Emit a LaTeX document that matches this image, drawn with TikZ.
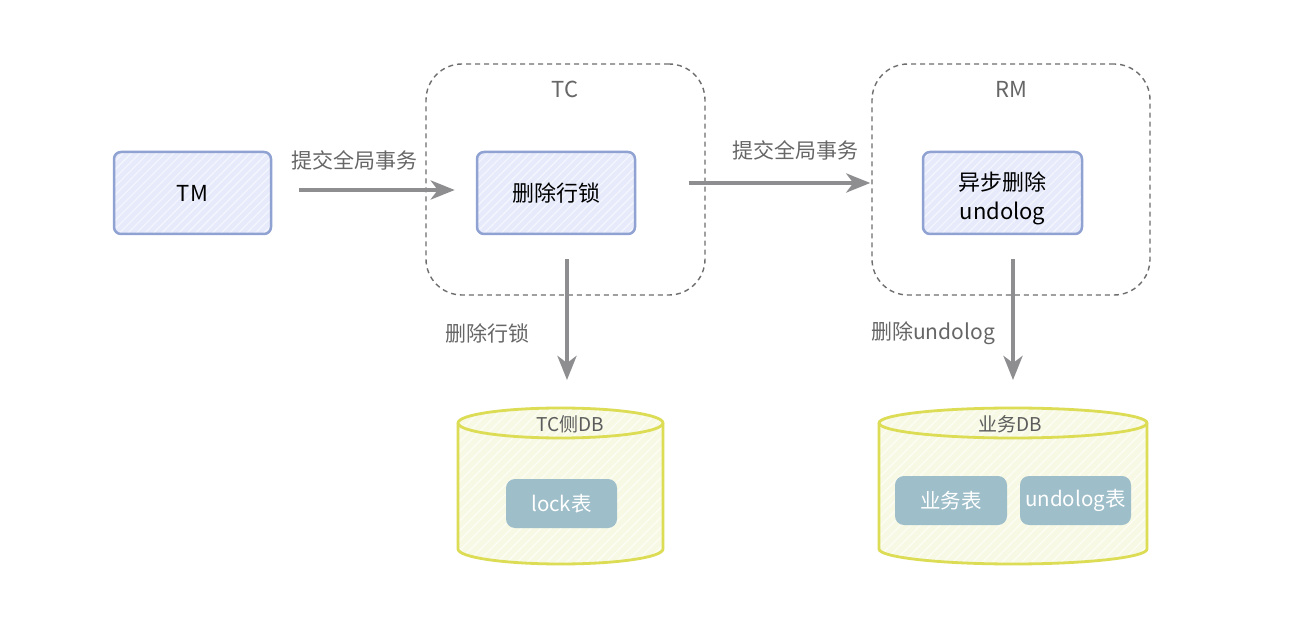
\documentclass[tikz,border=0pt]{standalone}
\usepackage{fontspec}
\setmainfont{Noto Sans CJK SC}
\usetikzlibrary{arrows.meta,patterns.meta,calc}
\definecolor{boxfill}{HTML}{E6EAFB}
\definecolor{boxline}{HTML}{8FA2D2}
\definecolor{dbfill}{HTML}{F7F9E4}
\definecolor{dbline}{HTML}{DCDC55}
\definecolor{tblfill}{HTML}{9EBEC9}
\definecolor{arrgray}{HTML}{8E8E91}
\definecolor{dashgray}{HTML}{6E6E6E}
\definecolor{txtgray}{HTML}{666666}
\tikzset{
  procbox/.style={draw=boxline, line width=2.5pt, rounded corners=7pt,
    minimum width=157pt, minimum height=82pt, inner sep=0pt, align=center,
    preaction={fill=boxfill},
    pattern={Lines[angle=45,distance=6pt,line width=1.3pt]}, pattern color=white!55!boxfill,
    font=\fontsize{22}{29}\selectfont, text=black},
  container/.style={draw=dashgray, dash pattern=on 5pt off 4pt, line width=1.4pt,
    rounded corners=36pt, minimum width=279pt, minimum height=231pt, inner sep=0pt},
  arr/.style={draw=arrgray, line width=4.5pt, -{Stealth[length=24pt,width=19pt,inset=7pt]}},
  lbl/.style={text=txtgray, font=\fontsize{21}{24}\selectfont, inner sep=0pt},
  ttl/.style={text=txtgray, font=\fontsize{22}{24}\selectfont, inner sep=0pt},
  dbshape/.style={draw=dbline, line width=2.8pt, preaction={fill=dbfill},
    pattern={Lines[angle=45,distance=7pt,line width=1.4pt]}, pattern color=white!60!dbfill},
  tbl/.style={fill=tblfill, rounded corners=9pt, minimum height=49pt, inner sep=0pt,
    text=white, font=\fontsize{20.5}{24}\selectfont},
  dblbl/.style={text=txtgray!90!black, font=\fontsize{19}{22}\selectfont, inner sep=0pt},
}
\begin{document}
\begin{tikzpicture}[x=1pt,y=1pt]
\useasboundingbox[fill=white] (0,0) rectangle (1292,624);

% containers
\node[container] (tc) at (565.5,444.5) {};
\node[container, minimum width=278pt] (rm) at (1011,444.5) {};
\node[ttl] (tclbl) at (565,535) {TC};
\node[ttl] (rmlbl) at (1011,535) {RM};

% process boxes
\node[procbox] (tm) at (192.5,431) {TM};
\node[procbox, minimum width=158pt] (lockbox) at (556,431) {删除行锁};
\node[procbox, minimum width=159pt] (undobox) at (1002.5,431) {};
\node[font=\fontsize{22}{29}\selectfont, inner sep=0pt, align=center] (undotxt) at ([yshift=-5pt]undobox.center) {异步删除\\undolog};

% databases
\coordinate (tcdbin) at (567,244);
\coordinate (bizdbin) at (1013,244);
\path[dbshape] (458,201) -- (458,75) arc[start angle=180,end angle=360,x radius=102.5,y radius=15]
  -- (663,201) arc[start angle=0,end angle=180,x radius=102.5,y radius=15] -- cycle;
\draw[draw=dbline, line width=2.8pt] (458,201) arc[start angle=180,end angle=360,x radius=102.5,y radius=15];
\path[dbshape] (879,201) -- (879,75) arc[start angle=180,end angle=360,x radius=134,y radius=15]
  -- (1147,201) arc[start angle=0,end angle=180,x radius=134,y radius=15] -- cycle;
\draw[draw=dbline, line width=2.8pt] (879,201) arc[start angle=180,end angle=360,x radius=134,y radius=15];
\node[dblbl] (tcdblbl) at (570,200) {TC侧DB};
\node[dblbl] (bizdblbl) at (1010,200) {业务DB};

\node[tbl, minimum width=111pt] (locktbl) at (561.5,120.5) {lock表};
\node[tbl, minimum width=112pt] (biztbl) at (951,123.5) {业务表};
\node[tbl, minimum width=111pt] (undotbl) at (1075.5,123.5) {undolog表};

% arrows
\draw[arr] ([xshift=27pt,yshift=3pt]tm.east) -- ([xshift=-21pt,yshift=3pt]lockbox.west);
\draw[arr] ([xshift=-17pt,yshift=-3.5pt]tc.east) -- ([xshift=-1pt,yshift=-3.5pt]rm.west);
\draw[arr] ([xshift=11pt,yshift=-24pt]lockbox.south) -- (tcdbin);
\draw[arr] ([xshift=10.5pt,yshift=-24pt]undobox.south) -- (bizdbin);

% labels
\node[lbl] (l1) at (354,464) {提交全局事务};
\node[lbl] (l2) at (795,474) {提交全局事务};
\node[lbl] (l3) at (487,291) {删除行锁};
\node[lbl] (l4) at (933,291) {删除undolog};
\end{tikzpicture}
\end{document}
